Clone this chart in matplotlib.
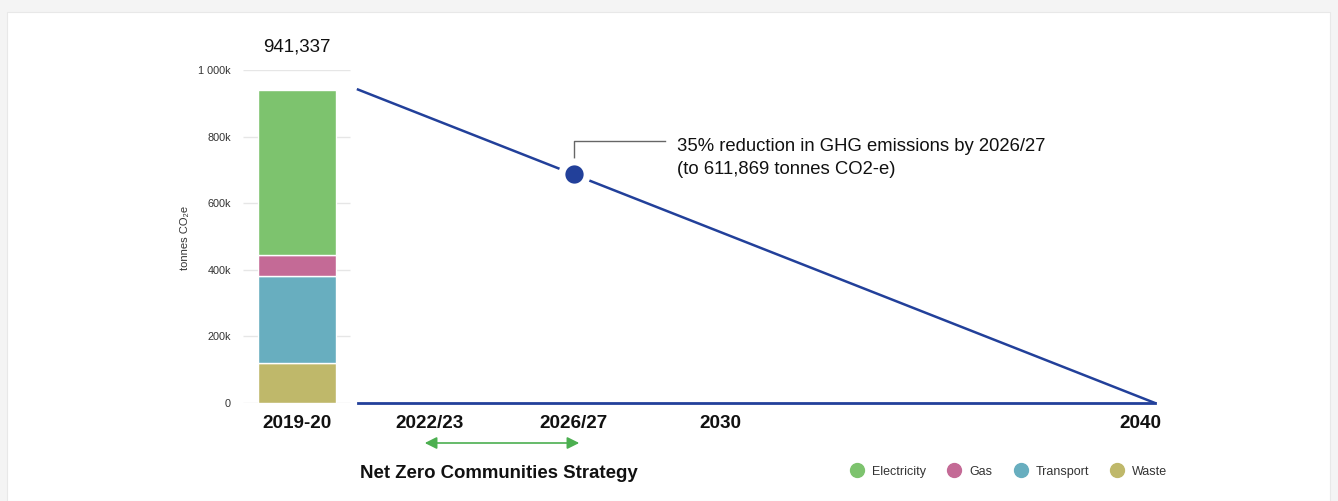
import matplotlib.pyplot as plt
from matplotlib.patches import Rectangle, FancyArrowPatch
from matplotlib.lines import Line2D

plt.rcParams['font.family'] = ['Liberation Sans', 'DejaVu Sans']

# data
categories = ["Electricity", "Gas", "Transport", "Waste"]
colors = ["#7dc36e", "#c46a96", "#68aebf", "#bfb86a"]
# stacked from bottom: Waste, Transport, Gas, Electricity
values_2019 = {"Waste": 120000, "Transport": 261000, "Gas": 63000, "Electricity": 497337}
total_2019 = 941337
x_labels = ["2019-20", "2022/23", "2026/27", "2030", "2040"]
y_ticks = [0, 200000, 400000, 600000, 800000, 1000000]
y_tick_labels = ["0", "200k", "400k", "600k", "800k", "1 000k"]
target_end = 0

# layout positions (figure pixel units along x)
x_pos = [297, 429, 574, 720, 1140]
line_x = [358, 1155]
bar_w = 78

fig = plt.figure(figsize=(13.38, 5.02), dpi=100)
fig.patch.set_facecolor("#f4f4f4")
fig.patches.append(Rectangle((7 / 1338, 0), 1323 / 1338, 489 / 502,
                             transform=fig.transFigure, facecolor="white",
                             edgecolor="#e8e8e8", lw=0.8, zorder=-10))

ax = fig.add_axes([0, 98 / 502, 1, 333 / 502])
ax.set_zorder(5)
ax.set_xlim(0, 1338)
ax.set_ylim(0, 1000000)
ax.axis("off")

# gridlines only over the bar area
ax.hlines(y_ticks, 243, 350, color="#e6e6e6", lw=1, zorder=1)
for t, lab in zip(y_ticks, y_tick_labels):
    ax.text(231, t, lab, ha="right", va="center", fontsize=7.8, color="#333333")
ax.text(185, 500000, "tonnes CO\u2082e", rotation=90, ha="center", va="center",
        fontsize=8, color="#333333")

# stacked bar
bottom = 0
for name in ["Waste", "Transport", "Gas", "Electricity"]:
    c = colors[categories.index(name)]
    ax.bar(x_pos[0], values_2019[name], width=bar_w, bottom=bottom, color=c,
           edgecolor="white", linewidth=1, zorder=2)
    bottom += values_2019[name]
ax.text(x_pos[0], 1000000 + 72000, f"{total_2019:,}", ha="center", va="center",
        fontsize=13.5, color="#111111", clip_on=False)

# trajectory line and baseline
navy = "#22409a"
ax.plot(line_x, [total_2019, target_end], color=navy, lw=1.8, zorder=3)
ax.plot(line_x, [0, 0], color=navy, lw=2, zorder=3, clip_on=False)

dot_x = x_pos[2]
dot_y = total_2019 + (target_end - total_2019) * (dot_x - line_x[0]) / (line_x[1] - line_x[0])
ax.scatter([dot_x], [dot_y], s=330, color="#22409a", edgecolor="white",
           linewidth=5, zorder=5)

# annotation connector
ax.plot([dot_x, dot_x, 665], [730000, 786000, 786000], color="#666666", lw=1, zorder=4)
ax.text(677, 738000, "35% reduction in GHG emissions by 2026/27\n(to 611,869 tonnes CO2-e)",
        ha="left", va="center", fontsize=13.3, color="#111111", linespacing=1.45)

# x labels
for xp, lab in zip(x_pos, x_labels):
    ax.text(xp, -60000, lab, ha="center", va="center", fontsize=13.6,
            fontweight="bold", color="#111111", clip_on=False)

# strategy arrow
arr = FancyArrowPatch((422 / 1338, 58 / 502), (582 / 1338, 58 / 502),
                      transform=fig.transFigure, arrowstyle="<|-|>",
                      mutation_scale=18, color="#4caf50", lw=1.2)
fig.patches.append(arr)
fig.text(499 / 1338, 28 / 502, "Net Zero Communities Strategy", ha="center",
         va="center", fontsize=13.4, fontweight="bold", color="#111111")

# legend
handles = [Line2D([], [], marker="o", ls="", markersize=10, color=c) for c in colors]
fig.legend(handles, categories, loc="center", bbox_to_anchor=(1006 / 1338, 30 / 502),
           ncol=4, frameon=False, fontsize=9, handletextpad=0.2, columnspacing=1.25,
           labelcolor="#333333")

fig.savefig("out.png", dpi=100)
